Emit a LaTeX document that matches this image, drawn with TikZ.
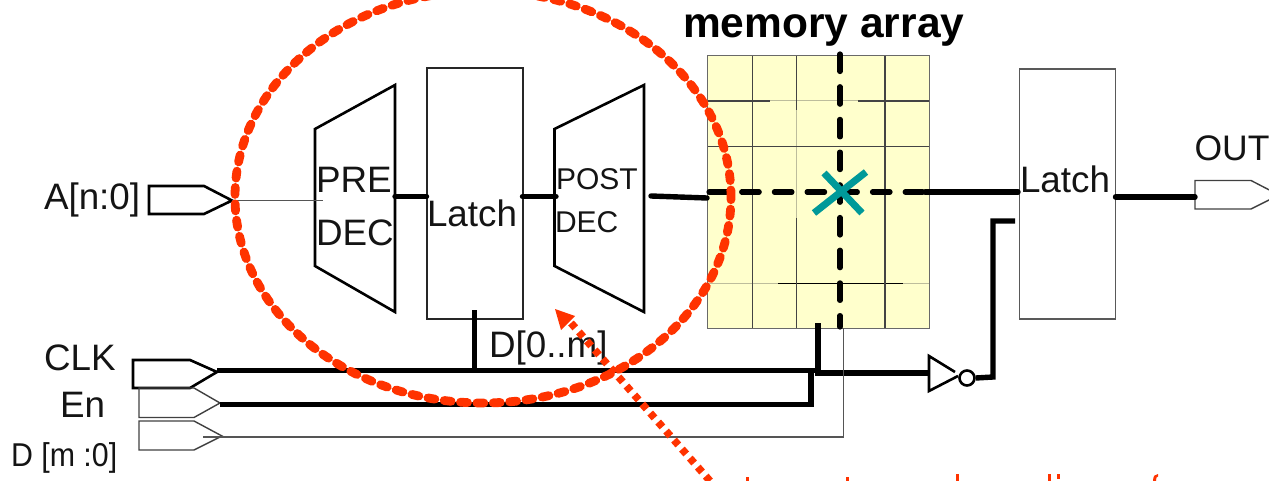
\documentclass[tikz,border=0pt]{standalone}
\usepackage{graphicx}
\usepackage{fontspec}
\setmainfont{Liberation Sans}
\usetikzlibrary{arrows.meta}
\definecolor{redmark}{HTML}{FF3300}
\definecolor{cellfill}{HTML}{FFFFCC}
\definecolor{gridline}{HTML}{444444}
\definecolor{tealx}{HTML}{009999}
\definecolor{thingrey}{HTML}{555555}
\tikzset{
  lab/.style={anchor=base west,inner sep=0pt,outer sep=0pt,font=\fontsize{36.8}{36.8}\selectfont,text=black!92},
  labs/.style={anchor=base west,inner sep=0pt,outer sep=0pt,font=\fontsize{30}{30}\selectfont,text=black!92},
  wire/.style={line width=5.4pt,line cap=round,line join=miter,black},
  thinwire/.style={line width=1.1pt,thingrey},
  shapeline/.style={line width=2.6pt,black,line join=miter},
  thinshape/.style={line width=1.4pt,black!75,line join=miter},
  latchbox/.style={draw,inner sep=0pt,outer sep=0pt,minimum width=96pt,minimum height=250pt},
  cellline/.style={line width=1.2pt,gridline},
  faintline/.style={line width=1pt,gridline!35!cellfill},
  dashwire/.style={line width=5.2pt,line cap=round,black,dash pattern=on 17.5pt off 15.2pt},
  ellipseline/.style={line width=8.8pt,line cap=round,redmark,dash pattern=on 7pt off 9.4pt},
  dotline/.style={line width=7.5pt,redmark,dash pattern=on 6.5pt off 5.5pt},
  tealmark/.style={line width=7pt,tealx}
}
\begin{document}
\begin{tikzpicture}[x=1pt,y=-1pt]
\useasboundingbox (0,0) rectangle (1269,481);
\clip (0,0) rectangle (1269,481);
% memory array
\fill[cellfill] (707.5,55.5) rectangle (929.5,328.5);
\draw[faintline] (770,101) -- (858,101);
\draw[faintline] (796,110) -- (796,218);
\draw[cellline] (707.5,101) -- (770,101) (858,101) -- (929.5,101);
\draw[cellline] (707.5,146.5) -- (929.5,146.5);
\draw[faintline] (707.5,283.5) -- (778,283.5) (903,283.5) -- (929.5,283.5);
\draw[line width=1.2pt,black] (778,283.5) -- (903,283.5);
\draw[cellline] (752.5,55.5) -- (752.5,328.5);
\draw[cellline] (796.5,55.5) -- (796.5,110) (796.5,218) -- (796.5,328.5);
\draw[cellline] (885,55.5) -- (885,328.5);
\draw[line width=1.2pt,gridline!80] (707.5,55.5) rectangle (929.5,328.5);
% named connection points
\coordinate (aTip) at (232,200.5);
\coordinate (preIn) at (323,200.5);
\coordinate (preOut) at (395,196.5);
\coordinate (postIn) at (556,196.5);
\coordinate (postOut) at (651,196);
\coordinate (arrIn) at (707,198);
\coordinate (dashHStart) at (709,192);
\coordinate (dashHEnd) at (925,192);
\coordinate (outLatchIn) at (1018,192);
\coordinate (dashVStart) at (840,54);
\coordinate (dashVEnd) at (840,327);
\coordinate (clkTip) at (217,370.5);
\coordinate (enTip) at (220,404.5);
\coordinate (dTip) at (203,437);
\coordinate (clkJoin) at (818,370.5);
\coordinate (clkStem) at (818,323);
\coordinate (invIn) at (929,373);
\coordinate (enJoin) at (811,404.5);
\coordinate (dCorner) at (843.5,437);
\coordinate (dTop) at (843.5,328);
\coordinate (outPinIn) at (1195,197);
% latches
\node[latchbox,line width=2pt,black!85] (latchA) at (474.5,193.5) {};
\node[latchbox,line width=1.4pt,black!65] (latchB) at (1067.5,194) {};
% decoders
\draw[shapeline] (315,129) -- (395,85) -- (395,312) -- (315,266) -- cycle;
\draw[shapeline] (554.5,129) -- (644,85) -- (644,312) -- (554.5,266) -- cycle;
% input/output pins
\draw[shapeline] (149,186) -- (204,186) -- (aTip) -- (204,214) -- (149,214) -- cycle;
\draw[shapeline] (133,360) -- (190,360) -- (217,372) -- (190,388) -- (133,388) -- cycle;
\draw[thinshape] (139,388) -- (194,388) -- (220,403) -- (194,417.5) -- (139,417.5) -- cycle;
\draw[thinshape] (139,421) -- (194,421) -- (222,436) -- (194,450) -- (139,450) -- cycle;
\draw[thinshape] (1195,180.5) -- (1251,180.5) -- (1279,195) -- (1251,209) -- (1195,209) -- cycle;
% inverter
\draw[shapeline] (955,372) -- (929,356) -- (929,391) -- (958,376);
\node[draw,circle,line width=2.6pt,inner sep=0pt,minimum size=15pt] (bubble) at (967,378) {};
% wires
\draw[thinwire] (aTip) -- (preIn);
\draw[wire] (preOut) -- (latchA.west |- preOut);
\draw[wire] (latchA.east |- postIn) -- (postIn);
\draw[wire] (postOut) -- (arrIn);
\draw[dashwire] (dashHStart) -- (dashHEnd);
\draw[wire] (dashHEnd) -- (outLatchIn);
\draw[dashwire] (dashVStart) -- (dashVEnd);
\draw[wire] (latchB.east |- outPinIn) -- (outPinIn);
\draw[wire,line cap=butt] (clkTip) -- (clkJoin);
\draw[wire,line cap=butt] (enTip) -- (enJoin) -- (enJoin |- clkJoin);
\draw[wire,line cap=butt] (clkStem) -- (clkJoin |- invIn) -- (invIn);
\draw[wire,line cap=butt] (474.5,310) -- (474.5,372);
\draw[wire,line cap=butt] (bubble.east) -- (993,377) -- (993,221) -- (1015,221);
\draw[thinwire] (dTip) -- (dCorner) -- (dTop);
% teal cross
\draw[tealmark] (824,173) -- (862,213);
\draw[tealmark] (866,172) -- (814,213);
% labels
\node[lab] (tA) at (44,210) {A[n:0]};
\node[lab] (tPre) at (316,193) {PRE};
\node[lab] (tDec) at (316,245) {DEC};
\node[lab] (tLatchA) at (427,226) {Latch};
\node[labs] (tPost) at (556,190) {POST};
\node[labs] (tDec2) at (555,233) {DEC};
\node[lab] (tLatchB) at (1020,193) {Latch};
\node[lab,font=\fontsize{35.5}{35.5}\selectfont] (tOut) at (1194.5,161) {OUT};
\node[lab] (tDm) at (489,357) {D[0..m]};
\node[lab] (tClk) at (44,370) {CLK};
\node[lab] (tEn) at (60,417) {En};
\node[lab] (tD) at (11,466) {\fontsize{33}{33}\selectfont\scalebox{.92}[1]{D [m :0]}};
\node[anchor=base west,inner sep=0pt,font=\fontsize{42.5}{42.5}\selectfont\bfseries,text=black] (tMem) at (683,38) {memory array};
% red marks
\draw[ellipseline] (483,197) ellipse [x radius=248pt,y radius=206pt];
\coordinate (arrowTail) at (710,481);
\coordinate (arrowHead) at (571,323);
\coordinate (arrowTip) at (555,309);
\draw[dotline] (arrowTail) -- (arrowHead);
\fill[redmark] (arrowTip) -- (575,316) -- (561,330) -- cycle;
% tops of red text cut off by the lower edge
\fill[redmark] (746,477) rectangle (749,481);
\fill[redmark] (846,477) rectangle (849,481);
\fill[redmark] (955.5,474) rectangle (958.5,481);
\fill[redmark] (1047.5,474) rectangle (1050.5,481);
\fill[redmark] (1057,474) rectangle (1060,479);
\fill[redmark] (1153,481) .. controls (1153,476) and (1155,474) .. (1158,474) -- (1158,476.5) .. controls (1156.5,476.5) and (1156,478) .. (1156,481) -- cycle;
\end{tikzpicture}
\end{document}
